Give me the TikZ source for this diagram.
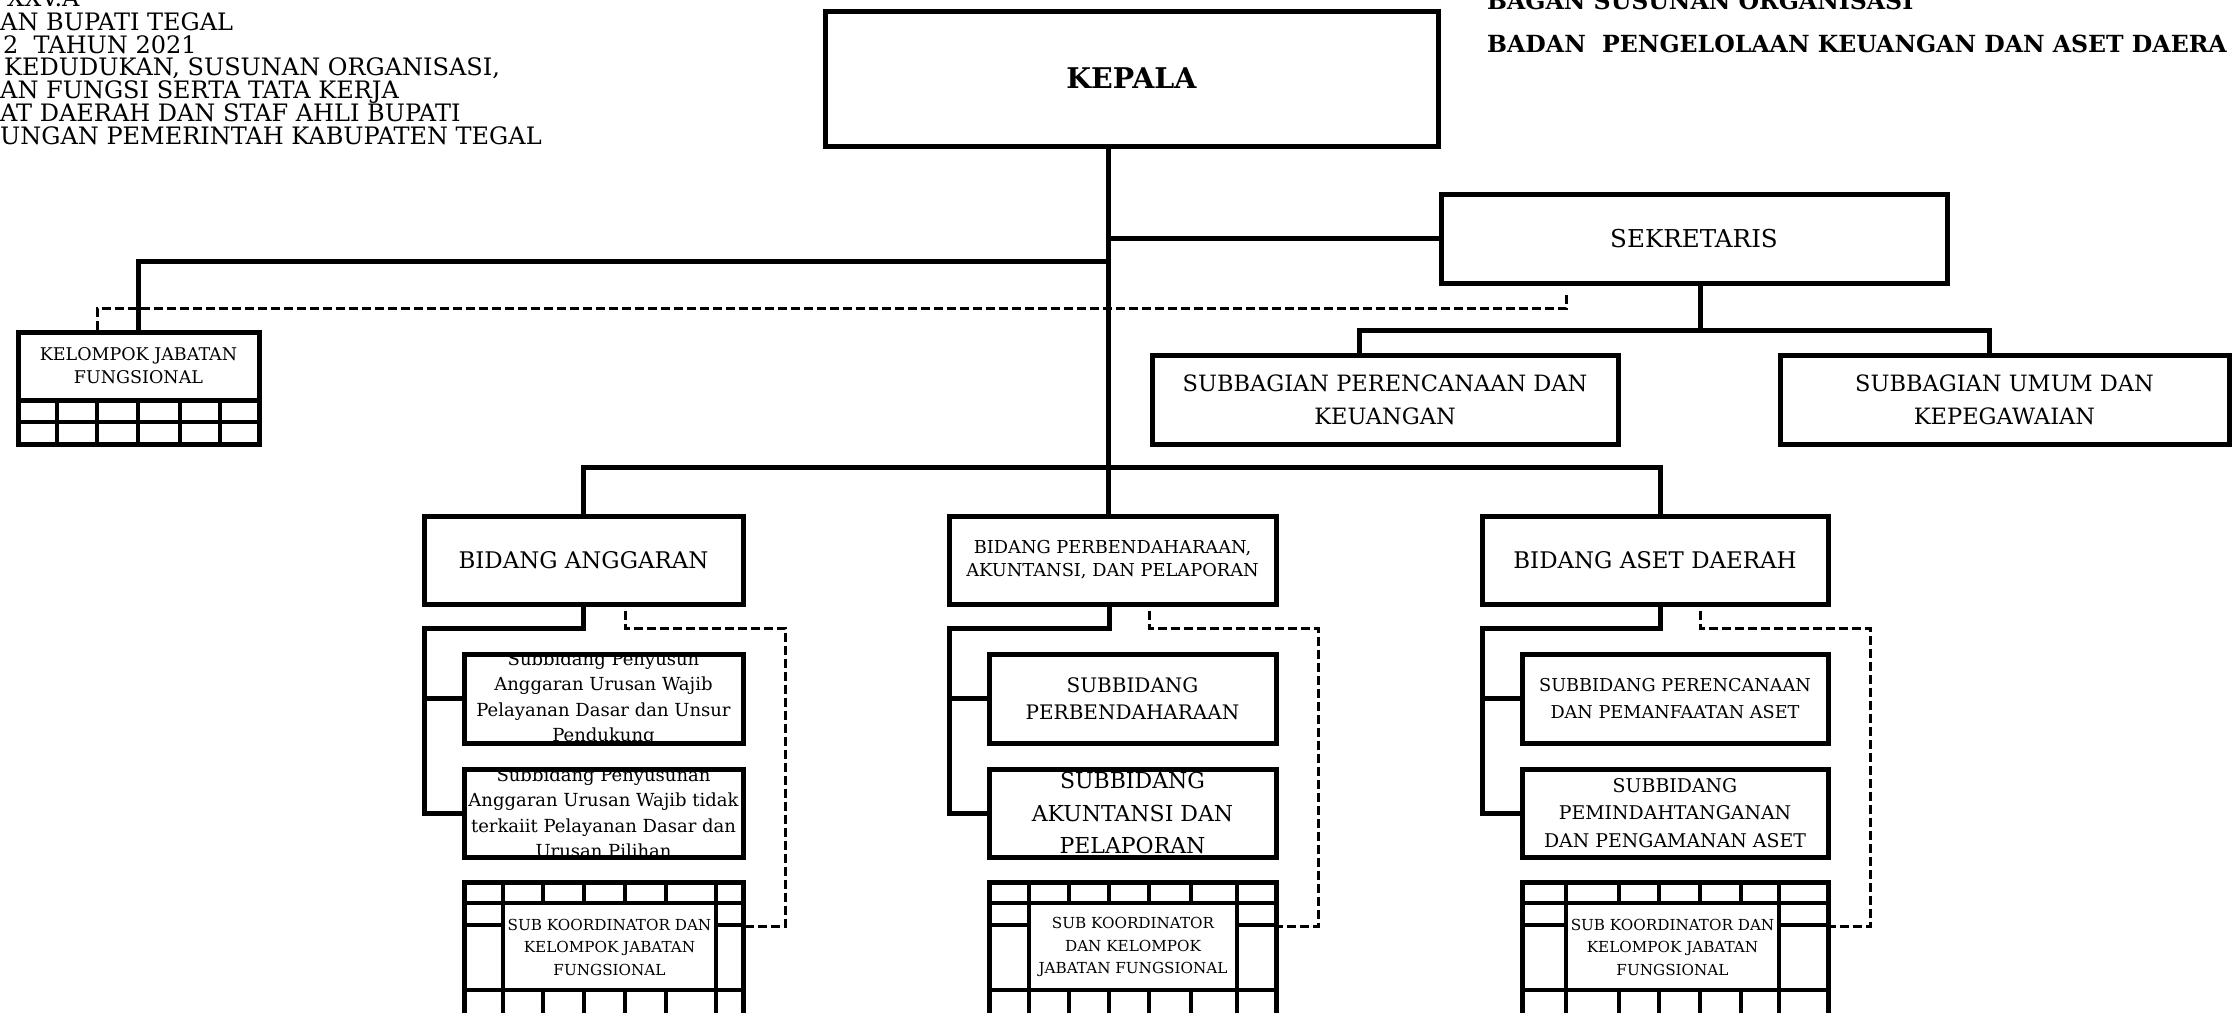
\documentclass[tikz,border=0pt]{standalone}
\usepackage{fontspec}
\setmainfont{DejaVu Serif}
\begin{document}
\begin{tikzpicture}[x=1pt,y=-1pt,
  box/.style={draw, line width=5pt, fill=white, inner sep=0pt, align=center},
  conn/.style={line width=5pt},
  boxln/.style={line width=5pt},
  gridln/.style={line width=4pt},
  dsh/.style={line width=3pt, dash pattern=on 9pt off 4pt},
  hdr/.style={anchor=base west, inner sep=0pt, font=\fontsize{24}{28}\selectfont},
  ttl/.style={anchor=base west, inner sep=0pt, font=\bfseries\fontsize{23.6}{28}\selectfont},
  bid/.style={font=\fontsize{22.9}{30}\selectfont},
  gtext/.style={align=center, inner sep=0pt, font=\fontsize{15.2}{22.5}\selectfont}
]
\useasboundingbox (0,0) rectangle (2234,1013);
\fill[white] (0,0) rectangle (2234,1013);

% header text (top left)
\node[hdr] (h1) at (7,6.5) {XXV.A};
\node[hdr] (h2) at (0,30) {AN BUPATI TEGAL};
\node[hdr] (h3) at (3,53) {2\ \ TAHUN 2021};
\node[hdr] (h4) at (4,75.6) {KEDUDUKAN, SUSUNAN ORGANISASI,};
\node[hdr] (h5) at (0,98.4) {AN FUNGSI SERTA TATA KERJA};
\node[hdr] (h6) at (0,121) {AT DAERAH DAN STAF AHLI BUPATI};
\node[hdr] (h7) at (0,144) {UNGAN PEMERINTAH KABUPATEN TEGAL};

% title (top right)
\node[ttl] (t1) at (1487,9) {BAGAN SUSUNAN ORGANISASI};
\node[ttl] (t2) at (1487,52) {BADAN\ \ PENGELOLAAN KEUANGAN DAN ASET DAERA};

% top level
\node[box, minimum width=613pt, minimum height=135pt, font=\bfseries\fontsize{28.5}{32}\selectfont] (kepala) at (1131.5,78.5) {KEPALA};
\node[box, minimum width=506pt, minimum height=89pt, font=\fontsize{24.6}{30}\selectfont] (sek) at (1694,238.5) {SEKRETARIS};
\node[box, minimum width=466pt, minimum height=89pt, font=\fontsize{22.5}{33}\selectfont] (sbpk) at (1385,399.5) {SUBBAGIAN PERENCANAAN DAN\\KEUANGAN};
\node[box, minimum width=449pt, minimum height=89pt, font=\fontsize{22.5}{33}\selectfont] (sbuk) at (2004.5,399.5) {SUBBAGIAN UMUM DAN\\KEPEGAWAIAN};

% kelompok jabatan fungsional
\node[box, minimum width=241pt, minimum height=68pt, font=\fontsize{17.5}{23}\selectfont] (kjf) at (138.5,366) {KELOMPOK JABATAN\\FUNGSIONAL};
\draw[boxln] (18,400) -- (18,444) -- (259,444) -- (259,400);
\draw[gridln] (18,422) -- (259,422);
\foreach \x in {57,97,138,180,220} \draw[gridln] (\x,400) -- (\x,444);

% bidang
\node[box, minimum width=319pt, minimum height=88pt, bid] (ba) at (583.5,560) {BIDANG ANGGARAN};
\node[box, minimum width=327pt, minimum height=88pt, font=\fontsize{17.8}{23}\selectfont] (bp) at (1112.5,560) {BIDANG PERBENDAHARAAN,\\AKUNTANSI, DAN PELAPORAN};
\node[box, minimum width=346pt, minimum height=88pt, bid] (bad) at (1655,560) {BIDANG ASET DAERAH};

% subbidang anggaran
\node[box, minimum width=279pt, minimum height=89pt,
  path picture={\node[align=center, inner sep=0pt, font=\fontsize{18}{25.5}\selectfont] (ba1t) at (path picture bounding box.center) {Subbidang Penyusun\\Anggaran Urusan Wajib\\Pelayanan Dasar dan Unsur\\Pendukung};}] (ba1) at (603.5,698.5) {};
\node[box, minimum width=279pt, minimum height=88pt,
  path picture={\node[align=center, inner sep=0pt, font=\fontsize{18}{25.5}\selectfont] (ba2t) at (path picture bounding box.center) {Subbidang Penyusunan\\Anggaran Urusan Wajib tidak\\terkaiit Pelayanan Dasar dan\\Urusan Pilihan};}] (ba2) at (603.5,813) {};

% subbidang perbendaharaan
\node[box, minimum width=287pt, minimum height=89pt, font=\fontsize{20}{27}\selectfont] (bp1) at (1132.5,698.5) {SUBBIDANG\\PERBENDAHARAAN};
\node[box, minimum width=287pt, minimum height=88pt,
  path picture={\node[align=center, inner sep=0pt, font=\fontsize{22}{32.5}\selectfont] (bp2t) at (path picture bounding box.center) {SUBBIDANG\\AKUNTANSI DAN\\PELAPORAN};}] (bp2) at (1132.5,813) {};

% subbidang aset
\node[box, minimum width=306pt, minimum height=89pt, font=\fontsize{17.7}{27}\selectfont] (bad1) at (1675,698.5) {SUBBIDANG PERENCANAAN\\DAN PEMANFAATAN ASET};
\node[box, minimum width=306pt, minimum height=88pt, font=\fontsize{18.9}{27.5}\selectfont] (bad2) at (1675,813) {SUBBIDANG\\PEMINDAHTANGANAN\\DAN PENGAMANAN ASET};

% grids: anggaran
\draw[boxln] (464,1013) -- (464,882) -- (743,882) -- (743,1013);
\draw[gridln] (464,903) -- (743,903) (464,990) -- (743,990) (464,925) -- (503,925) (716,925) -- (743,925) (503,882) -- (503,1013) (716,882) -- (716,1013);
\foreach \x in {543,584,625,666} \draw[gridln] (\x,882) -- (\x,903) (\x,990) -- (\x,1013);
\node[gtext] (ga) at (609.5,947) {SUB KOORDINATOR DAN\\KELOMPOK JABATAN\\FUNGSIONAL};
\coordinate (gaE) at (743,926);

% grids: perbendaharaan
\draw[boxln] (989,1013) -- (989,882) -- (1276,882) -- (1276,1013);
\draw[gridln] (989,903) -- (1276,903) (989,990) -- (1276,990) (989,925) -- (1029,925) (1237,925) -- (1276,925) (1029,882) -- (1029,1013) (1237,882) -- (1237,1013);
\foreach \x in {1069,1109,1149,1191} \draw[gridln] (\x,882) -- (\x,903) (\x,990) -- (\x,1013);
\node[gtext] (gp) at (1133,947) {SUB KOORDINATOR\\DAN KELOMPOK\\JABATAN FUNGSIONAL};
\coordinate (gpE) at (1276,926);

% grids: aset
\draw[boxln] (1522,1013) -- (1522,882) -- (1828,882) -- (1828,1013);
\draw[gridln] (1522,903) -- (1828,903) (1522,990) -- (1828,990) (1522,925) -- (1566,925) (1779,925) -- (1828,925) (1566,882) -- (1566,1013) (1779,882) -- (1779,1013);
\foreach \x in {1619,1659,1700,1741} \draw[gridln] (\x,882) -- (\x,903) (\x,990) -- (\x,1013);
\node[gtext] (gd) at (1672.5,947) {SUB KOORDINATOR DAN\\KELOMPOK JABATAN\\FUNGSIONAL};
\coordinate (gdE) at (1828,926);

% connectors: top
\coordinate (tS) at (1108,238.5);
\coordinate (tK) at (1108,261);
\coordinate (sb) at (1700,330);
\coordinate (sbL) at (1359,330);
\coordinate (sbR) at (1989,330);
\coordinate (bb) at (1108,467);
\draw[conn] ([xshift=-23.5pt]kepala.south) -- ([xshift=-4.5pt]bp.north);
\draw[conn] (tS) -- (sek.west);
\draw[conn] (tK) -| (kjf.north);
\draw[dsh] ([xshift=-41.5pt]kjf.north) |- (1566,308) -- ([xshift=-128pt,yshift=-8pt]sek.south);
\draw[conn] ([xshift=6pt]sek.south) -- (sb);
\draw[conn] ([xshift=-26pt]sbpk.north) |- (sbL) -- (sbR) -- ([xshift=-15.5pt]sbuk.north);
\draw[conn] (ba.north) |- (bb) -| ([xshift=5pt]bad.north);

% connectors: anggaran
\coordinate (ca) at (424,628);
\draw[conn] (ba.south) |- (ca) |- (ba2.west);
\draw[conn] (ba1.west) -- (ba1.west -| ca);
\draw[dsh] ([xshift=41.5pt,yshift=-4pt]ba.south) |- (785,628) |- (gaE);

% connectors: perbendaharaan
\coordinate (cp) at (949,628);
\draw[conn] ([xshift=-3pt]bp.south) |- (cp) |- (bp2.west);
\draw[conn] (bp1.west) -- (bp1.west -| cp);
\draw[dsh] ([xshift=36.5pt,yshift=-4pt]bp.south) |- (1318,628) |- (gpE);

% connectors: aset
\coordinate (cd) at (1482,628);
\draw[conn] ([xshift=5pt]bad.south) |- (cd) |- (bad2.west);
\draw[conn] (bad1.west) -- (bad1.west -| cd);
\draw[dsh] ([xshift=45pt,yshift=-4pt]bad.south) |- (1870,628) |- (gdE);
\end{tikzpicture}
\end{document}
